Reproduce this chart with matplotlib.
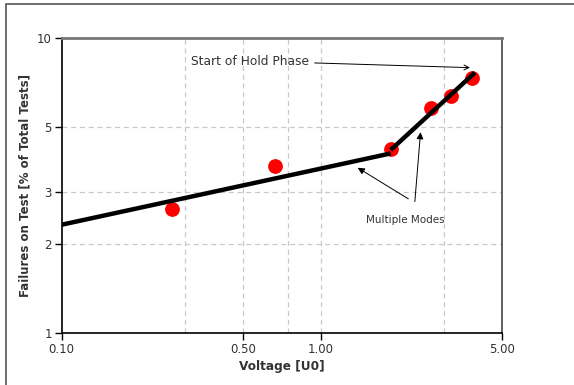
import matplotlib
matplotlib.use("Agg")
import matplotlib.pyplot as plt
from matplotlib.patches import Rectangle

# measured failures (% of total tests) vs. voltage
voltage = [0.267, 0.668, 1.864, 2.66, 3.18, 3.84]
failures = [2.63, 3.69, 4.20, 5.80, 6.34, 7.29]

# two fitted modes
fit1_x = [0.10, 1.864]
fit1_y = [2.33, 4.06]
fit2_x = [1.864, 3.94]
fit2_y = [4.17, 7.62]

xticks = [0.10, 0.50, 1.00, 5.00]
xtick_labels = ["0.10", "0.50", "1.00", "5.00"]
xgrid = [0.3, 0.5, 0.75, 1.0, 3.0]
yticks = [1, 2, 3, 5, 10]
ytick_labels = ["1", "2", "3", "5", "10"]
ygrid = [2, 3, 5]

TXT = "#333333"

fig = plt.figure(figsize=(5.74, 3.85), dpi=100)
ax = fig.add_axes([61.7 / 574, 1 - 333.3 / 385, 440 / 574, 295.6 / 385])

ax.set_xscale("log")
ax.set_yscale("log")
ax.set_xlim(0.1, 5)
ax.set_ylim(1, 10)

for g in xgrid:
    ax.axvline(g, color="#c8c8c8", linestyle=(0, (4, 3)), linewidth=0.9, zorder=0)
for g in ygrid:
    ax.axhline(g, color="#c8c8c8", linestyle=(0, (4, 3)), linewidth=0.9, zorder=0)

ax.plot(voltage, failures, "o", color="#ff0000", markersize=9.6, zorder=2)
ax.plot(fit1_x, fit1_y, color="black", linewidth=3.2, solid_capstyle="butt", zorder=3)
ax.plot(fit2_x, fit2_y, color="black", linewidth=3.2, solid_capstyle="butt", zorder=3)

ax.xaxis.set_minor_locator(matplotlib.ticker.NullLocator())
ax.yaxis.set_minor_locator(matplotlib.ticker.NullLocator())
ax.set_xticks(xticks)
ax.set_xticklabels(xtick_labels)
ax.set_yticks(yticks)
ax.set_yticklabels(ytick_labels)
ax.tick_params(direction="out", length=5, width=1, colors="black", labelcolor=TXT,
               labelsize=8.5, pad=2)

for s in ("left", "bottom"):
    ax.spines[s].set_color("black")
    ax.spines[s].set_linewidth(1.2)
ax.spines["top"].set_color("#777777")
ax.spines["top"].set_linewidth(2)
ax.spines["right"].set_color("#444444")
ax.spines["right"].set_linewidth(1.2)

ax.set_xlabel("Voltage [U0]", fontsize=8.7, fontweight="bold", color=TXT, labelpad=3)
ax.set_ylabel("Failures on Test [% of Total Tests]", fontsize=8.5, fontweight="bold",
              color=TXT, labelpad=4)

ax.annotate("Start of Hold Phase", xy=(3.77, 7.92), xytext=(0.316, 8.34),
            fontsize=8.8, color=TXT, va="center", ha="left",
            arrowprops=dict(arrowstyle="->", color="black", lw=0.7, shrinkA=2, shrinkB=0))

ax.text(2.125, 2.42, "Multiple Modes", fontsize=7.5, color=TXT, ha="center", va="center")
ax.annotate("", xy=(1.39, 3.63), xytext=(2.18, 2.85),
            arrowprops=dict(arrowstyle="-|>", color="black", lw=0.7,
                            mutation_scale=10, shrinkA=0, shrinkB=0))
ax.annotate("", xy=(2.43, 4.79), xytext=(2.31, 2.79),
            arrowprops=dict(arrowstyle="-|>", color="black", lw=0.7,
                            mutation_scale=10, shrinkA=0, shrinkB=0))

# outer frame of the figure
fig.patches.append(Rectangle((6 / 574, -0.01), 1.1, 1 - 4 / 385 + 0.01, transform=fig.transFigure,
                             fill=False, edgecolor="#555555", linewidth=1.2))

fig.savefig("out.png", dpi=100)
